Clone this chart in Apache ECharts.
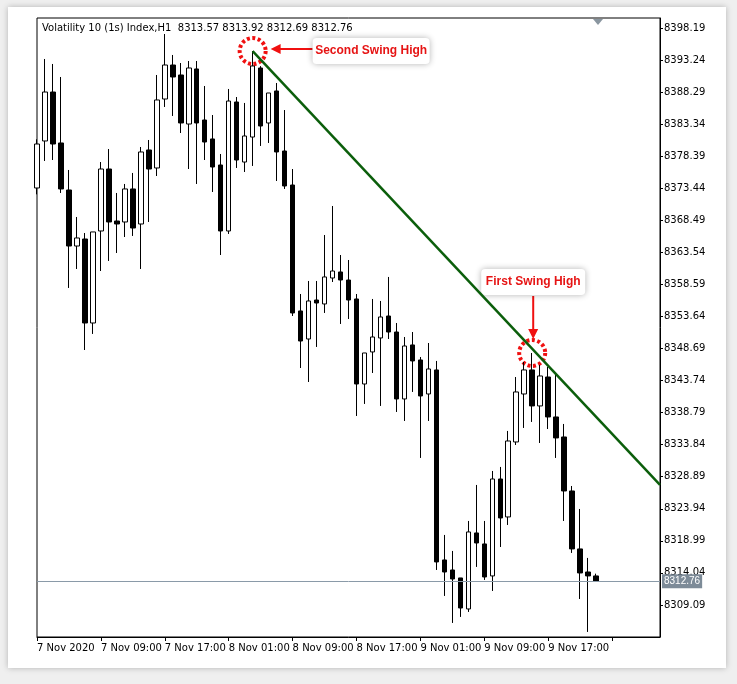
<!DOCTYPE html>
<html><head><meta charset="utf-8">
<script src="https://cdn.jsdelivr.net/npm/echarts@6/dist/echarts.min.js"></script>
<style>
html,body{margin:0;padding:0;background:#efefef;width:737px;height:684px;overflow:hidden;font-family:"DejaVu Sans",sans-serif}
#card{position:absolute;left:8px;top:7px;width:718px;height:661px;background:#fff;box-shadow:0 0 6px rgba(0,0,0,0.25)}
#c{position:absolute;left:0;top:0;width:737px;height:684px}
</style></head><body>
<div id="card"></div><div id="c"></div>
<script>
// [open, close, low, high]
const candles = [
[8373.48,8380.27,8372.5,8381.0],[8380.74,8388.30,8377.65,8393.40],[8388.30,8380.27,8377.80,8392.63],[8380.43,8373.33,8372.71,8390.62],
[8373.17,8364.52,8358.04,8376.26],[8364.52,8365.76,8360.97,8369.00],[8365.60,8352.63,8348.46,8366.53],[8352.63,8366.69,8350.94,8366.69],
[8366.84,8376.41,8360.66,8377.49],[8376.41,8368.23,8362.21,8379.50],[8368.38,8367.92,8363.44,8372.71],[8368.23,8373.33,8365.91,8374.10],
[8373.33,8367.30,8366.07,8375.80],[8367.92,8379.04,8360.97,8379.81],[8379.35,8376.41,8368.23,8380.89],[8376.57,8387.07,8375.33,8390.93],
[8387.22,8392.47,8385.99,8397.26],[8392.47,8390.62,8384.60,8394.02],[8390.93,8383.52,8381.97,8392.78],[8383.36,8392.01,8376.41,8393.09],
[8391.86,8383.52,8374.10,8393.09],[8383.98,8380.58,8377.80,8389.23],[8381.05,8376.72,8372.86,8384.75],[8377.03,8366.84,8363.13,8378.73],
[8366.84,8386.91,8366.38,8388.77],[8386.76,8377.80,8376.57,8387.53],[8377.49,8381.51,8375.95,8386.61],[8381.35,8392.32,8376.88,8394.63],
[8392.01,8383.05,8379.97,8392.30],[8383.52,8388.15,8380.43,8388.15],[8388.46,8379.04,8374.56,8389.69],[8379.19,8373.79,8373.33,8385.52],
[8373.94,8354.18,8353.71,8376.41],[8354.49,8349.85,8345.68,8357.11],[8350.16,8356.03,8343.52,8359.12],[8356.18,8355.72,8348.93,8359.12],
[8355.57,8359.74,8354.18,8366.22],[8359.58,8360.66,8358.96,8370.70],[8360.51,8359.27,8352.48,8363.13],[8359.27,8356.18,8353.25,8362.36],
[8356.34,8343.21,8338.27,8357.11],[8343.21,8348.00,8340.13,8348.00],[8348.16,8350.47,8344.91,8356.34],[8350.32,8353.56,8339.82,8356.03],
[8353.71,8351.24,8350.16,8359.74],[8351.24,8340.90,8338.89,8352.63],[8340.90,8349.08,8337.50,8350.47],[8349.24,8346.77,8341.98,8351.24],
[8346.92,8341.36,8331.79,8347.38],[8341.67,8345.53,8337.50,8349.54],[8345.38,8315.73,8314.49,8346.77],[8316.04,8314.18,8310.48,8319.90],
[8314.49,8313.10,8306.31,8317.43],[8313.26,8308.62,8307.24,8313.26],[8308.47,8320.36,8308.01,8322.06],[8320.21,8318.66,8314.96,8327.62],
[8318.51,8313.41,8312.95,8322.06],[8313.57,8328.54,8311.25,8329.78],[8328.54,8322.52,8318.04,8330.40],[8322.68,8334.41,8321.44,8335.96],
[8334.26,8341.98,8333.79,8344.29],[8341.67,8345.38,8336.42,8346.61],[8345.38,8339.82,8337.35,8348.00],[8339.82,8344.45,8334.10,8346.15],
[8344.29,8338.12,8336.26,8345.84],[8338.12,8334.88,8331.79,8344.91],[8335.03,8326.69,8322.06,8337.04],[8326.69,8317.74,8317.12,8327.46],
[8317.74,8314.03,8310.01,8323.91],[8314.18,8313.57,8304.92,8316.35],[8313.57,8312.76,8312.69,8313.92]
];
const tickLabels = ['7 Nov 2020','7 Nov 09:00','7 Nov 17:00','8 Nov 01:00','8 Nov 09:00','8 Nov 17:00','9 Nov 01:00','9 Nov 09:00','9 Nov 17:00','10 Nov 01:00'];
const totalSlots = 79;
const trendStart = [27, 8394.63];
const trendEnd = [78, 8327.62];
const lastPrice = 8312.76;
const firstSwing = [62, 8348.0];
const header = 'Volatility 10 (1s) Index,H1  8313.57 8313.92 8312.69 8312.76';

const cats = Array.from({length: totalSlots}, (_, i) => String(i));
const trend = cats.map((_, i) => i === trendStart[0] ? trendStart[1] : (i === trendEnd[0] ? trendEnd[1] : '-'));
const chart = echarts.init(document.getElementById('c'));
chart.setOption({
  animation: false,
  grid: {left: 37, right: 77, top: 18, bottom: 47, show: true, borderColor: '#000', borderWidth: 1},
  xAxis: {type: 'category', data: cats, boundaryGap: false,
    axisLine: {lineStyle: {color: '#000'}},
    axisTick: {interval: (i) => i % 8 === 0, length: 4, lineStyle: {color: '#000'}},
    axisLabel: {interval: 0, align: 'left', margin: 6, fontSize: 10, color: '#000', fontFamily: 'DejaVu Sans',
      formatter: (v, i) => (i % 8 === 0 && i < 72) ? tickLabels[i / 8] : ''},
    splitLine: {show: false}},
  yAxis: {type: 'value', position: 'right', min: 8304.14, max: 8399.73, interval: 4.95, scale: true,
    axisLine: {show: true, lineStyle: {color: '#000'}},
    axisTick: {show: true, length: 3, lineStyle: {color: '#000'}},
    axisLabel: {showMinLabel: false, showMaxLabel: false, fontSize: 10, color: '#000', margin: 4, fontFamily: 'DejaVu Sans',
      formatter: v => v.toFixed(2)},
    splitLine: {show: false}},
  series: [
    {type: 'candlestick', data: candles, barWidth: 5, clip: true,
      itemStyle: {color: '#fff', color0: '#000', borderColor: '#000', borderColor0: '#000', borderWidth: 1},
      markLine: {silent: true, symbol: 'none', data: [{yAxis: lastPrice}],
        lineStyle: {color: '#8a9aa8', type: 'solid', width: 1},
        label: {position: 'end', formatter: lastPrice.toFixed(2), backgroundColor: '#7d8b98', color: '#fff',
          fontSize: 10, padding: [2, 2], distance: 2}}},
    {type: 'line', data: trend, connectNulls: true, symbol: 'none',
      lineStyle: {color: '#0b5e0b', width: 2.5}}
  ]
});
const p2 = chart.convertToPixel({seriesIndex: 0}, trendStart);
const p1 = chart.convertToPixel({seriesIndex: 0}, firstSwing);
function ring(p){ return {type:'circle', shape:{cx:p[0], cy:p[1], r:13}, style:{fill:'none', stroke:'#f01010', lineWidth:4, lineDash:[3,2.5]}}; }
function box(x, y, w, txt){ return {type:'group', children:[
  {type:'rect', shape:{x:x, y:y, width:w, height:26, r:4}, style:{fill:'#fff', shadowBlur:6, shadowColor:'rgba(0,0,0,0.3)'}},
  {type:'text', style:{x:x + w/2, y:y + 13, text:txt, fill:'#e61414', font:'bold 12px "Liberation Sans", Arial', align:'center', verticalAlign:'middle'}}]}; }
chart.setOption({graphic: [
  {type:'text', style:{x:42, y:28, text:header, fill:'#000', font:'10px "DejaVu Sans"', verticalAlign:'middle'}},
  {type:'polygon', shape:{points:[[593,19],[603,19],[598,25]]}, style:{fill:'#8a96a0'}},
  ring(p2), ring(p1),
  {type:'line', shape:{x1:p2[0]+60, y1:p2[1]-2, x2:p2[0]+26, y2:p2[1]-2}, style:{stroke:'#f01010', lineWidth:2}},
  {type:'polygon', shape:{points:[[p2[0]+18,p2[1]-2],[p2[0]+28,p2[1]-7],[p2[0]+28,p2[1]+3]]}, style:{fill:'#f01010'}},
  box(p2[0]+60, p2[1]-13, 117, 'Second Swing High'),
  {type:'line', shape:{x1:p1[0]+1, y1:p1[1]-57, x2:p1[0]+1, y2:p1[1]-22}, style:{stroke:'#f01010', lineWidth:2}},
  {type:'polygon', shape:{points:[[p1[0]+1,p1[1]-14],[p1[0]-4,p1[1]-24],[p1[0]+6,p1[1]-24]]}, style:{fill:'#f01010'}},
  box(p1[0]-51, p1[1]-84, 104, 'First Swing High')
]});
</script></body></html>
